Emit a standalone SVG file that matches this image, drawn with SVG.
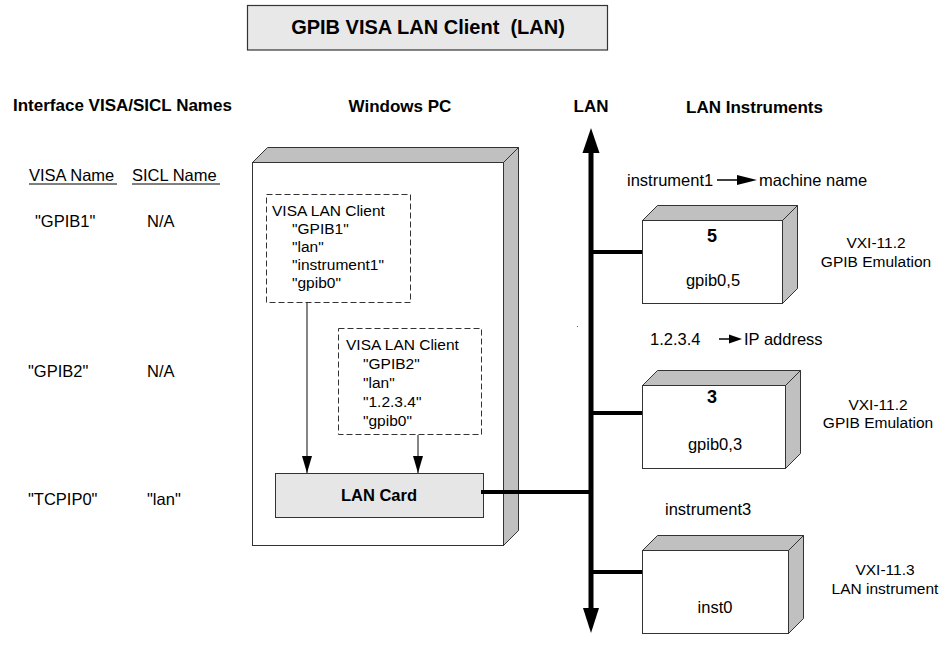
<svg xmlns="http://www.w3.org/2000/svg" width="949" height="670" viewBox="0 0 949 670">
<style>
text{font-family:"Liberation Sans",Arial,sans-serif;fill:#000}
.h{font-size:17px;font-weight:bold}
.t{font-size:16.5px}
.s{font-size:15.5px}
.b{font-size:16.5px;font-weight:bold}
.face{fill:#fff;stroke:#333;stroke-width:1}
.bevel{fill:#c0c0c0;stroke:#333;stroke-width:1}
.dash{fill:#fff;stroke:#333;stroke-width:1;stroke-dasharray:6 3}
.thin{stroke:#333;stroke-width:1.2;fill:none}
.thick{stroke:#000;stroke-width:4;fill:none}
.bus{stroke:#000;stroke-width:5;fill:none}
.ul{stroke:#000;stroke-width:1}
</style>
<defs>
<marker id="ah" viewBox="0 0 17 10" refX="17" refY="5" markerWidth="17" markerHeight="10" markerUnits="userSpaceOnUse" orient="auto">
<path d="M0,0 L17,5 L0,10 z" fill="#000"/>
</marker>
</defs>
<rect width="949" height="670" fill="#fff"/>

<g id="title">
<rect x="247.5" y="5.5" width="360" height="44.5" fill="#e8e8e8" stroke="#333" stroke-width="1.2"/>
<text x="428" y="34" text-anchor="middle" xml:space="preserve" style="font-size:20px;font-weight:bold;white-space:pre">GPIB VISA LAN Client  (LAN)</text>
</g>

<g id="headers">
<text class="h" x="13" y="111">Interface VISA/SICL Names</text>
<text class="h" x="400" y="112" text-anchor="middle">Windows PC</text>
<text class="h" x="591" y="112" text-anchor="middle">LAN</text>
<text class="h" x="686" y="113">LAN Instruments</text>
</g>

<g id="names-table">
<text class="t" x="29" y="181">VISA Name</text>
<line class="ul" x1="29" y1="184" x2="117" y2="184"/>
<text class="t" x="132" y="181">SICL Name</text>
<line class="ul" x1="132" y1="184" x2="220" y2="184"/>
<text class="t" x="35" y="227">"GPIB1"</text>
<text class="t" x="147" y="227">N/A</text>
<text class="t" x="28" y="377">"GPIB2"</text>
<text class="t" x="147" y="377">N/A</text>
<text class="t" x="28" y="505">"TCPIP0"</text>
<text class="t" x="147" y="505">"lan"</text>
</g>

<g id="windows-pc">
<polygon class="bevel" points="252.5,162.5 267.5,147.5 518.5,147.5 503.5,162.5"/>
<polygon class="bevel" points="503.5,162.5 518.5,147.5 518.5,530.5 503.5,545.5"/>
<rect class="face" x="252.5" y="162.5" width="251" height="383"/>
</g>

<g id="visa-client-1">
<rect class="dash" x="266.5" y="194.5" width="144" height="108"/>
<text class="s" x="272" y="216">VISA LAN Client</text>
<text class="s" x="292" y="234">"GPIB1"</text>
<text class="s" x="292" y="252">"lan"</text>
<text class="s" x="292" y="270">"instrument1"</text>
<text class="s" x="292" y="288">"gpib0"</text>
</g>

<g id="visa-client-2">
<rect class="dash" x="338.5" y="328.5" width="143" height="106"/>
<text class="s" x="346" y="350">VISA LAN Client</text>
<text class="s" x="363" y="369">"GPIB2"</text>
<text class="s" x="363" y="388">"lan"</text>
<text class="s" x="363" y="407">"1.2.3.4"</text>
<text class="s" x="363" y="426">"gpib0"</text>
</g>

<g id="lan-card">
<rect x="275.5" y="473.5" width="208" height="44" fill="#e6e6e6" stroke="#333" stroke-width="1"/>
<text class="b" x="379" y="501" text-anchor="middle">LAN Card</text>
</g>

<g id="instrument-1">
<polygon class="bevel" points="642.5,220.5 657.5,205.5 797.5,205.5 782.5,220.5"/>
<polygon class="bevel" points="782.5,220.5 797.5,205.5 797.5,288.5 782.5,303.5"/>
<rect class="face" x="642.5" y="220.5" width="140" height="83"/>
<text x="712" y="242" text-anchor="middle" style="font-size:18px;font-weight:bold">5</text>
<text class="t" x="713" y="286" text-anchor="middle">gpib0,5</text>
<text class="s" x="876" y="248" text-anchor="middle">VXI-11.2</text>
<text class="s" x="876" y="267" text-anchor="middle">GPIB Emulation</text>
<text class="t" x="627" y="186">instrument1</text>
<text class="t" x="759" y="186">machine name</text>
</g>

<g id="instrument-2">
<polygon class="bevel" points="642.5,385.5 657.5,370.5 800.5,370.5 785.5,385.5"/>
<polygon class="bevel" points="785.5,385.5 800.5,370.5 800.5,453.5 785.5,468.5"/>
<rect class="face" x="642.5" y="385.5" width="143" height="83"/>
<text x="712" y="403" text-anchor="middle" style="font-size:18px;font-weight:bold">3</text>
<text class="t" x="715" y="450" text-anchor="middle">gpib0,3</text>
<text class="s" x="878" y="410" text-anchor="middle">VXI-11.2</text>
<text class="s" x="878" y="428" text-anchor="middle">GPIB Emulation</text>
<text class="t" x="650" y="345">1.2.3.4</text>
<text class="t" x="744" y="345">IP address</text>
</g>

<g id="instrument-3">
<polygon class="bevel" points="642.5,550.5 657.5,535.5 803.5,535.5 788.5,550.5"/>
<polygon class="bevel" points="788.5,550.5 803.5,535.5 803.5,618.5 788.5,633.5"/>
<rect class="face" x="642.5" y="550.5" width="146" height="83"/>
<text class="t" x="715" y="613" text-anchor="middle">inst0</text>
<text class="s" x="885" y="575" text-anchor="middle">VXI-11.3</text>
<text class="s" x="885" y="594" text-anchor="middle">LAN instrument</text>
<text class="t" x="665" y="515">instrument3</text>
</g>

<g id="connectors">
<line class="thin" x1="307" y1="302" x2="307" y2="473" marker-end="url(#ah)"/>
<line class="thin" x1="418" y1="435" x2="418" y2="473" marker-end="url(#ah)"/>
<line class="bus" x1="591" y1="150" x2="591" y2="612"/>
<polygon points="591,128 599.5,153 582.5,153" fill="#000"/>
<polygon points="591,633 583,608 599,608" fill="#000"/>
<line class="thick" x1="481" y1="492" x2="591" y2="492"/>
<line class="thick" x1="591" y1="252" x2="642" y2="252"/>
<line class="thick" x1="591" y1="413" x2="642" y2="413"/>
<line class="thick" x1="591" y1="572" x2="642" y2="572"/>
<line x1="717" y1="180" x2="740" y2="180" stroke="#000" stroke-width="1.5"/>
<polygon points="737,175 757,180 737,185" fill="#000"/>
<line x1="719" y1="339" x2="732" y2="339" stroke="#000" stroke-width="1.5"/>
<polygon points="729,334.5 742,339 729,343.5" fill="#000"/>
<rect x="577" y="326" width="1" height="1" fill="#666"/>
</g>
</svg>
